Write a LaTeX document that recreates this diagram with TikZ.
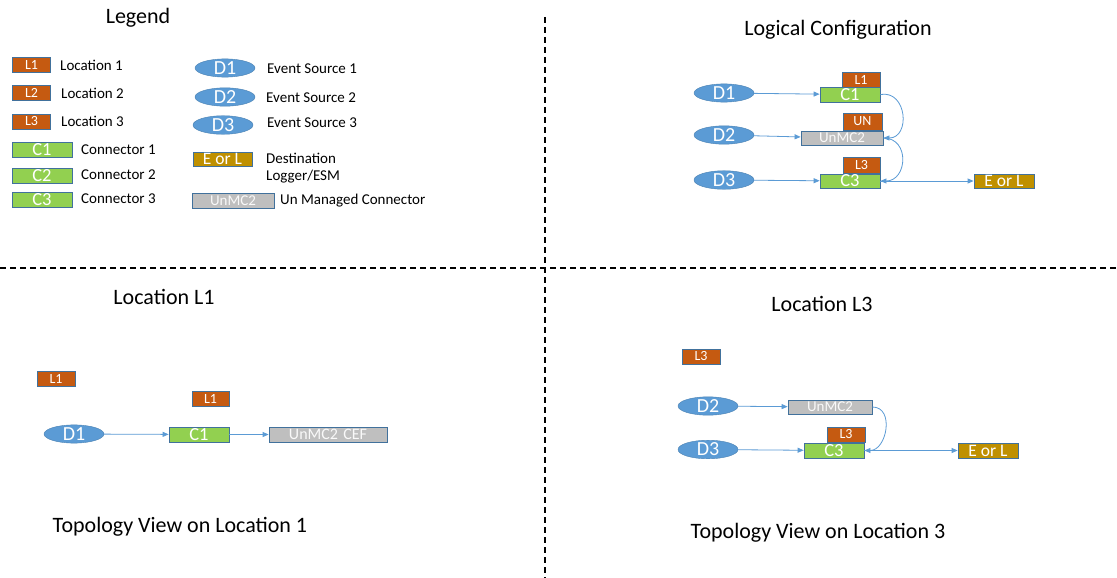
\documentclass[tikz,border=0pt]{standalone}
\usepackage{fontspec}
\setmainfont{Carlito}
\usetikzlibrary{shapes.geometric,arrows.meta}
\definecolor{locC}{HTML}{C55A11}
\definecolor{conC}{HTML}{92D050}
\definecolor{unC}{HTML}{BFBFBF}
\definecolor{dstC}{HTML}{BF9000}
\definecolor{srcC}{HTML}{5B9BD5}
\definecolor{edgeC}{HTML}{41719C}
\definecolor{arrC}{HTML}{5B9BD5}
\tikzset{
  fs/.style={font=\fontsize{#1}{#1}\selectfont},
  boxbase/.style={draw=edgeC, line width=0.8pt, inner sep=0pt, text=white},
  locbox/.style={boxbase, fill=locC, minimum width=38pt, minimum height=15pt, fs=14},
  conbox/.style={boxbase, fill=conC, minimum width=60pt, minimum height=15pt, fs=18.5},
  unbox/.style={boxbase, fill=unC, text=white!95!gray, minimum width=82pt, minimum height=14pt, fs=15},
  dstbox/.style={boxbase, fill=dstC, minimum width=60pt, minimum height=14pt, fs=17.5},
  srcell/.style={ellipse, fill=srcC, draw=edgeC!60!srcC, line width=0.4pt, text=white, minimum width=60pt, minimum height=17pt, inner sep=0pt, fs=20},
  lbl/.style={anchor=west, inner sep=0pt, fs=15},
  ttl/.style={inner sep=0pt, fs=22},
  arr/.style={draw=arrC, line width=0.8pt, -{Triangle[length=6pt,width=5pt]}},
  divider/.style={draw=black, line width=1.1pt, dash pattern=on 6pt off 4pt}
}
\begin{document}
\begin{tikzpicture}[x=1pt,y=-1pt]
\useasboundingbox (0,0) rectangle (1117,578);
\fill[white] (0,0) rectangle (1117,578);
% dividers
\coordinate (vtop) at (545,17);
\coordinate (vbot) at (545,578);
\coordinate (hl) at (0,268);
\coordinate (hr) at (1117,268);
\draw[divider] (vtop) -- (vbot);
\draw[divider] (hl) -- (hr);

% ---------------- Legend ----------------
\node[ttl] (tleg) at (138,18) {Legend};
\node[locbox] (g1) at (31.5,64.5) {L1};
\node[locbox] (g2) at (31.5,93) {L2};
\node[locbox] (g3) at (31.5,121.5) {L3};
\node[lbl] (tg1) at (60,65) {Location 1};
\node[lbl] (tg2) at (61,93) {Location 2};
\node[lbl] (tg3) at (61,121) {Location 3};
\node[conbox] (gc1) at (42,149.5) {C1};
\node[conbox] (gc2) at (42,175.5) {C2};
\node[conbox] (gc3) at (42,199.5) {C3};
\node[lbl] (tc1) at (81,150) {Connector 1};
\node[lbl] (tc2) at (81,175) {Connector 2};
\node[lbl] (tc3) at (81,199) {Connector 3};
\node[srcell] (gd1) at (225,68) {D1};
\node[srcell] (gd2) at (225,97) {D2};
\node[srcell] (gd3) at (223,125) {D3};
\node[lbl] (td1) at (267,69) {Event Source 1};
\node[lbl] (td2) at (266,98) {Event Source 2};
\node[lbl] (td3) at (267,123) {Event Source 3};
\node[dstbox, minimum width=59pt] (gel) at (222.5,159) {E or L};
\node[lbl] (tel1) at (266,158) {Destination};
\node[lbl] (tel2) at (266,177) {Logger/ESM};
\node[unbox, minimum height=15pt] (gun) at (233,200.5) {UnMC2};
\node[lbl] (tun) at (280,201) {Un Managed Connector};

% ---------------- Logical configuration ----------------
\node[ttl] (tlog) at (838,30) {Logical Configuration};
\node[srcell] (ld1) at (724,93) {D1};
\node[conbox] (lc1) at (850,94.5) {C1};
\node[locbox] (ll1) at (861,79.5) {L1};
\node[srcell] (ld2) at (724,135) {D2};
\node[unbox] (lun) at (842,138) {UnMC2};
\node[locbox, minimum width=39pt, minimum height=17pt] (lUN) at (862.5,121.5) {UN};
\node[srcell] (ld3) at (724,180) {D3};
\node[conbox, minimum height=14pt] (lc3) at (850,181) {C3};
\node[locbox, minimum width=37pt, minimum height=16pt] (ll3) at (861.5,165) {L3};
\node[dstbox] (lel) at (1004,181) {E or L};
\draw[arr] (ld1) -- (lc1);
\draw[arr] (ld2) -- (lun);
\draw[arr] (ld3) -- (lc3);
\draw[arr] (lc1.east) to[out=10,in=0,looseness=1.6] (lun.east);
\draw[arr] (lun.east) to[out=0,in=0,looseness=1.6] (lc3.east);
\draw[arr] (lc3) -- (lel);

% ---------------- Location L1 ----------------
\node[ttl] (tl1) at (164,297) {Location L1};
\node[locbox] (bl1) at (56,378.5) {L1};
\node[locbox, minimum width=37pt] (bl1b) at (210.5,398.5) {L1};
\node[srcell, minimum height=16pt] (bd1) at (74,434) {D1};
\node[conbox] (bc1) at (199,434.5) {C1};
\node[unbox, minimum width=118pt, minimum height=15pt, fs=16] (bun) at (328,434.5) {UnMC2\,\,CEF};
\draw[arr] (bd1) -- (bc1);
\draw[arr] (bc1) -- (bun);
\node[ttl] (ttop1) at (180,527) {Topology View on Location 1};

% ---------------- Location L3 ----------------
\node[ttl] (tl3) at (822,304) {Location L3};
\node[locbox] (bl3) at (701,356.5) {L3};
\node[srcell, minimum height=16pt] (bd2) at (708,406) {D2};
\node[unbox, minimum width=84pt] (bun2) at (830,407) {UnMC2};
\node[locbox] (bl3b) at (846,434.5) {L3};
\node[srcell] (bd3) at (708,449.5) {D3};
\node[conbox] (bc3) at (834,450.5) {C3};
\node[dstbox, minimum height=15pt] (bel) at (988,450.5) {E or L};
\draw[arr] (bd2) -- (bun2);
\draw[arr] (bd3) -- (bc3);
\draw[arr] (bun2.east) to[out=0,in=0,looseness=1.3] (bc3.east);
\draw[arr] (bc3) -- (bel);
\node[ttl] (ttop3) at (818,533) {Topology View on Location 3};
\end{tikzpicture}
\end{document}
